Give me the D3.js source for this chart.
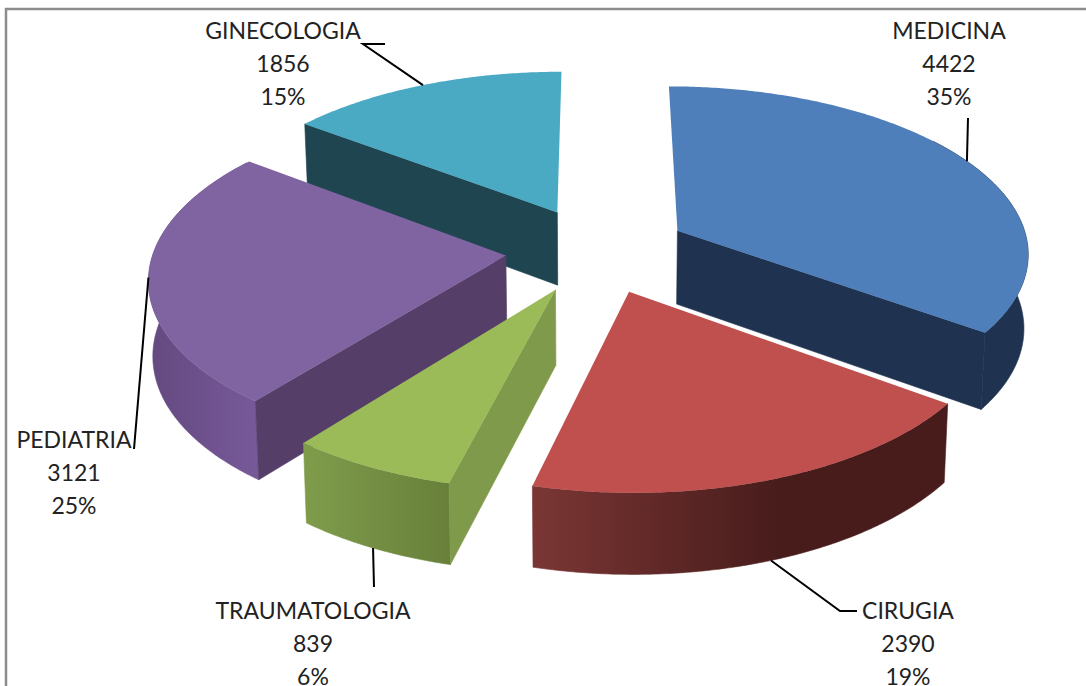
<!DOCTYPE html>
<html>
<head>
<meta charset="utf-8">
<script src="https://cdn.jsdelivr.net/npm/d3@7"></script>
<style>
html,body{margin:0;padding:0;background:#fff;overflow:hidden}
text{font-family:Lato,"Open Sans",sans-serif;fill:#222}
</style>
</head>
<body>
<svg id="chart" width="1086" height="686"></svg>
<script>
const categories = ["MEDICINA","CIRUGIA","TRAUMATOLOGIA","PEDIATRIA","GINECOLOGIA"];
const values = [4422,2390,839,3121,1856];
const percentLabels = ["35%","19%","6%","25%","15%"];
const topColors = ["#4e7fba","#c0504d","#9bbb59","#8064a2","#4aa9c3"];
const cutColors = ["#1f3350","#4a1d1c","#7e9a4a","#553f68","#1f4551"];
const wallFrom = ["#1f3350","#7a3634","#7f9c4b","#64497f","#1f4551"];
const wallTo = ["#1f3350","#471c1b","#68803a","#77599a","#1f4551"];

// layout
const W=1086,H=686;
const cx=597,cy=250,Rx=352,Ry=166,k=0.12,explode=0.26,D=74,squeeze=0.99;
const paintOrder=[4,3,0,2,1];
const labelLayout=[
 {x:949,y:38.5,leader:[[968,118]],wall:false},
 {x:908,y:619,leader:[[857,611],[840,611]],wall:true},
 {x:313,y:619,leader:[[374,587]],wall:true},
 {x:74,y:448,leader:[[134,449]],wall:false},
 {x:283,y:38.5,leader:[[385,44],[363,44]],wall:false}
];

const svg=d3.select("#chart");
const defs=svg.append("defs");
const arcs=d3.pie().sort(null).value(d=>d)(values);

function pt(d,a,r,wall){
  const mid=(d.startAngle+d.endAngle)/2;
  const X=r*Math.sin(a)+explode*Math.sin(mid);
  const Y=r*Math.cos(a)+explode*Math.cos(mid);
  const p=1/(1+k*Y);
  let x=cx+Rx*X*p, y=cy-Ry*Y*p;
  if(wall){ x=cx+(x-cx)*squeeze; y=y+D*Math.pow(p,0.6); }
  return [x,y];
}
function angles(d){
  const n=Math.ceil((d.endAngle-d.startAngle)/0.01);
  return d3.range(n+1).map(i=>d.startAngle+(d.endAngle-d.startAngle)*i/n);
}
const line=d3.line();

// frame
svg.append("path")
  .attr("d",line([[6,H],[6,9],[W,9]]))
  .attr("fill","none").attr("stroke","#8c8c8c").attr("stroke-width",2.5);

paintOrder.forEach(i=>{
  const d=arcs[i], as=angles(d);
  const g=svg.append("g").attr("class","slice");
  const topArc=as.map(a=>pt(d,a,1,false));
  const apexT=pt(d,0,0,false), apexB=pt(d,0,0,true);
  // outer wall: only the part of the rim that faces the viewer
  const front=as.filter(a=>Math.cos(a)<0.6);
  if(front.length>1){
    const t=front.map(a=>pt(d,a,1,false)), b=front.map(a=>pt(d,a,1,true));
    const xs=t.concat(b).map(p=>p[0]);
    const gid="wall"+i;
    const lg=defs.append("linearGradient").attr("id",gid)
      .attr("gradientUnits","userSpaceOnUse")
      .attr("x1",d3.min(xs)).attr("x2",d3.max(xs)).attr("y1",0).attr("y2",0);
    lg.append("stop").attr("offset",0).attr("stop-color",wallFrom[i]);
    lg.append("stop").attr("offset",i===1?0.6:1).attr("stop-color",wallTo[i]);
    g.append("path").attr("d",line(t.concat(b.slice().reverse()))+"Z")
      .attr("fill","url(#"+gid+")").attr("stroke","url(#"+gid+")").attr("stroke-width",0.6);
  }
  // radial cut that faces the viewer
  const cutAngle=d.endAngle<=Math.PI?d.endAngle:(d.startAngle>=Math.PI?d.startAngle:null);
  if(cutAngle!==null){
    g.append("path").attr("d",line([apexT,pt(d,cutAngle,1,false),pt(d,cutAngle,1,true),apexB])+"Z")
      .attr("fill",cutColors[i]).attr("stroke",cutColors[i]).attr("stroke-width",0.6);
  }
  // top
  g.append("path").attr("d",line([apexT].concat(topArc))+"Z").attr("fill",topColors[i]);
});

// leaders + labels
arcs.forEach((d,i)=>{
  const L=labelLayout[i];
  const mid=(d.startAngle+d.endAngle)/2;
  svg.append("path")
    .attr("d",line([pt(d,mid,1,L.wall)].concat(L.leader.slice().reverse())))
    .attr("fill","none").attr("stroke","#000").attr("stroke-width",2);
  const t=svg.append("text").attr("text-anchor","middle").attr("font-size",23);
  [categories[i],values[i],percentLabels[i]].forEach((s,j)=>{
    t.append("tspan").attr("x",L.x).attr("y",L.y+j*33).text(s);
  });
});
</script>
</body>
</html>
